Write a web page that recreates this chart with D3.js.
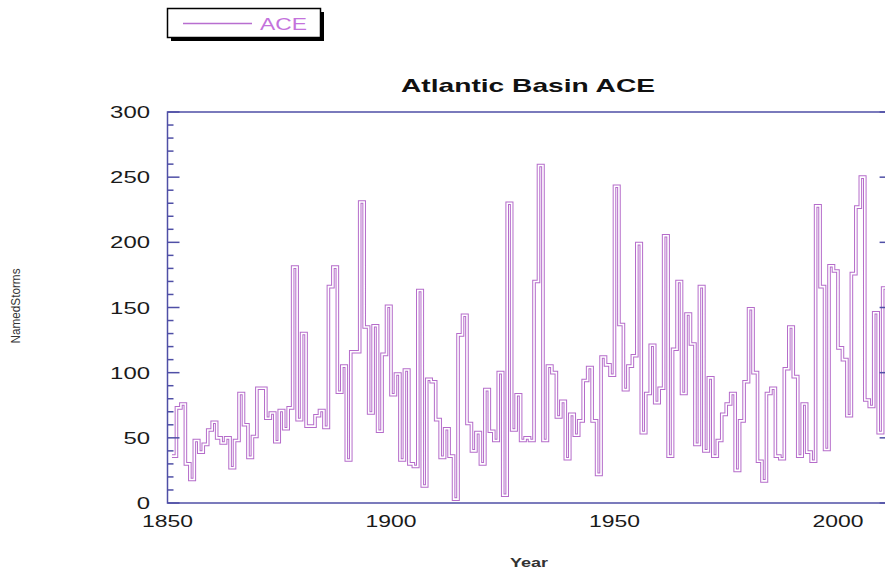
<!DOCTYPE html>
<html>
<head>
<meta charset="utf-8">
<script src="https://cdn.jsdelivr.net/npm/d3@7"></script>
<style>
  body { margin: 0; background: #fff; }
  text { font-family: "Liberation Sans", Arial, sans-serif; }
</style>
</head>
<body>
<div id="chart"></div>
<script>
var width = 885;
var height = 569;

// years 1851..2010
var firstYear = 1851;
var aceValues = [
  36, 73, 76, 30, 18, 48, 39, 45, 56, 62,   // 1851-1860
  50, 46, 50, 27, 48, 84, 60, 35, 51, 88,   // 1861-1870
  88, 65, 69, 47, 71, 57, 73, 181, 64, 130, // 1871-1880
  59, 59, 67, 71, 58, 166, 181, 85, 105, 33, // 1881-1890
  116, 116, 231, 135, 69, 136, 55, 114, 151, 83, // 1891-1900
  99, 33, 102, 30, 28, 163, 13, 95, 93, 64, // 1901-1910
  35, 57, 36, 3, 129, 144, 61, 40, 54, 30,  // 1911-1920
  87, 55, 48, 100, 6, 230, 56, 83, 48, 50,  // 1921-1930
  48, 170, 259, 48, 105, 100, 66, 78, 34, 68, // 1931-1940
  52, 63, 94, 104, 63, 22, 112, 106, 98, 243, // 1941-1950
  137, 87, 105, 113, 199, 54, 84, 121, 77, 88, // 1951-1960
  205, 36, 118, 170, 84, 145, 122, 45, 166, 40, // 1961-1970
  96, 36, 48, 68, 76, 84, 25, 63, 93, 149,  // 1971-1980
  100, 32, 17, 84, 88, 36, 34, 103, 135, 97, // 1981-1990
  36, 76, 39, 32, 228, 166, 41, 182, 178, 119, // 1991-2000
  110, 67, 176, 227, 250, 79, 74, 146, 54, 165 // 2001-2010
];
var yTicks = [0, 50, 100, 150, 200, 250, 300];
var xTicks = [1850, 1900, 1950, 2000];
var seriesName = "ACE";
var chartTitle = "Atlantic Basin ACE";

var lineColor = "#b56cca";
var axisColor = "#4f4fa6";

var x = d3.scaleLinear().domain([1850, 2012]).range([167.5, 891.6]);
var y = d3.scaleLinear().domain([0, 300]).range([503, 112]);

var rows = aceValues.map((v, i) => ({year: firstYear + i, value: v}));
// carry the last step out to the frame edge
rows.push({year: 2012, value: aceValues[aceValues.length - 1]});

var svg = d3.select("#chart").append("svg")
    .attr("width", width)
    .attr("height", height);

svg.append("rect").attr("width", width).attr("height", height).attr("fill", "#fff");

// legend box with drop shadow
var legend = svg.append("g");
legend.append("rect")
    .attr("x", 171).attr("y", 12).attr("width", 153).attr("height", 29)
    .attr("fill", "#000");
legend.append("rect")
    .attr("x", 167.5).attr("y", 8.5).attr("width", 153).attr("height", 29)
    .attr("fill", "#fff").attr("stroke", "#000").attr("stroke-width", 1.5);
legend.append("line")
    .attr("x1", 183).attr("x2", 252).attr("y1", 23.5).attr("y2", 23.5)
    .attr("stroke", "#b86ed0").attr("stroke-width", 1.6);
legend.append("text")
    .attr("x", 260).attr("y", 29.5)
    .attr("font-size", 17)
    .attr("fill", "#c472dc")
    .attr("textLength", 47).attr("lengthAdjust", "spacingAndGlyphs")
    .text(seriesName);

// title
svg.append("text")
    .attr("x", 528).attr("y", 92)
    .attr("text-anchor", "middle")
    .attr("font-size", 18.5).attr("font-weight", "bold")
    .attr("fill", "#111")
    .attr("textLength", 254).attr("lengthAdjust", "spacingAndGlyphs")
    .text(chartTitle);

// the step line, drawn as a hollow (outlined) stroke
var line = d3.line()
    .x(d => x(d.year))
    .y(d => y(d.value))
    .curve(d3.curveStepAfter);

var plot = svg.append("g");
plot.append("path")
    .datum(rows)
    .attr("fill", "none")
    .attr("stroke", lineColor)
    .attr("stroke-width", 3.6)
    .attr("d", line);
plot.append("path")
    .datum(rows)
    .attr("fill", "none")
    .attr("stroke", "#fff")
    .attr("stroke-width", 1.6)
    .attr("d", line);

// frame
svg.append("rect")
    .attr("x", x(1850)).attr("y", y(300))
    .attr("width", x(2012) - x(1850)).attr("height", y(0) - y(300))
    .attr("fill", "none")
    .attr("stroke", axisColor)
    .attr("stroke-width", 1.5);

var minorTicks = d3.range(0, 301, 10).filter(v => v % 50 != 0);

function drawTicks(g, xPos, dir) {
  g.selectAll("line.major")
    .data(yTicks)
    .join("line")
      .attr("class", "major")
      .attr("x1", xPos).attr("x2", xPos + dir * 12)
      .attr("y1", d => y(d)).attr("y2", d => y(d));
  g.selectAll("line.minor")
    .data(minorTicks)
    .join("line")
      .attr("class", "minor")
      .attr("x1", xPos).attr("x2", xPos + dir * 6)
      .attr("y1", d => y(d)).attr("y2", d => y(d));
}

var ticksG = svg.append("g").attr("stroke", axisColor).attr("stroke-width", 1.5);
drawTicks(ticksG.append("g"), x(1850), 1);
drawTicks(ticksG.append("g"), x(2012), -1);

// y tick labels
svg.append("g")
  .selectAll("text")
  .data(yTicks)
  .join("text")
    .attr("x", 150)
    .attr("y", d => y(d) + 6)
    .attr("text-anchor", "end")
    .attr("font-size", 16)
    .attr("fill", "#1a1a1a")
    .attr("textLength", d => String(d).length * 13.3)
    .attr("lengthAdjust", "spacingAndGlyphs")
    .text(d => d);

// x tick labels
svg.append("g")
  .selectAll("text")
  .data(xTicks)
  .join("text")
    .attr("x", d => x(d))
    .attr("y", 527)
    .attr("text-anchor", "middle")
    .attr("font-size", 16)
    .attr("fill", "#1a1a1a")
    .attr("textLength", 51)
    .attr("lengthAdjust", "spacingAndGlyphs")
    .text(d => d);

// axis titles
svg.append("text")
    .attr("transform", "translate(20,306) rotate(-90)")
    .attr("text-anchor", "middle")
    .attr("font-size", 12)
    .attr("fill", "#333")
    .attr("textLength", 75).attr("lengthAdjust", "spacingAndGlyphs")
    .text("NamedStorms");

svg.append("text")
    .attr("x", 529).attr("y", 567)
    .attr("text-anchor", "middle")
    .attr("font-size", 12).attr("font-weight", "bold")
    .attr("fill", "#333")
    .attr("textLength", 38).attr("lengthAdjust", "spacingAndGlyphs")
    .text("Year");
</script>
</body>
</html>
